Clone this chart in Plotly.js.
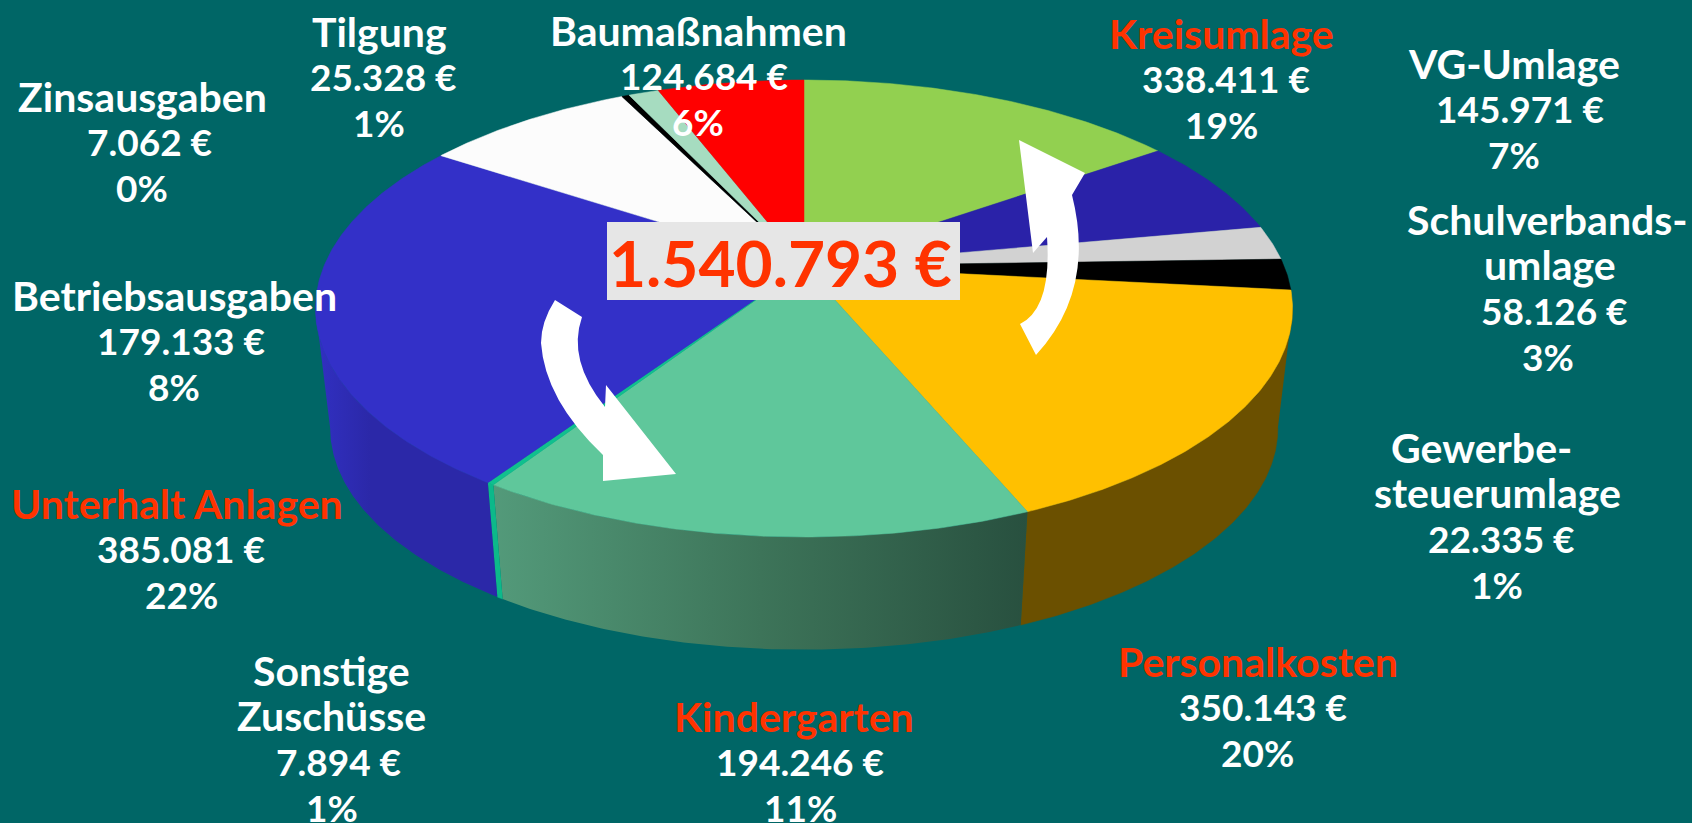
<!DOCTYPE html>
<html>
<head>
<meta charset="utf-8">
<script src="https://cdn.plot.ly/plotly-3.0.1.min.js"></script>
<style>html,body{margin:0;padding:0;background:#006666;overflow:hidden}#chart{width:1692px;height:823px}</style>
</head>
<body>
<div id="chart"></div>
<script>
// ---- data ----
const categories = ["Kreisumlage","VG-Umlage","Schulverbandsumlage","Gewerbesteuerumlage","Personalkosten","Kindergarten","Sonstige Zuschüsse","Unterhalt Anlagen","Betriebsausgaben","Zinsausgaben","Tilgung","Baumaßnahmen"];
// share of the disc as drawn, percent, clockwise from 12 o'clock
const drawnShares = [15.2,6.9,2.4,2.2,17.0,15.5,0.2,24.9,8.4,0.3,1.2,5.8];
const amounts = ["338.411 €","145.971 €","58.126 €","22.335 €","350.143 €","194.246 €","7.894 €","385.081 €","179.133 €","7.062 €","25.328 €","124.684 €"];
const percents = ["19%","7%","3%","1%","20%","11%","1%","22%","8%","0%","1%","6%"];
const nameLines = [["Kreisumlage"],["VG-Umlage"],["Schulverbands-","umlage"],["Gewerbe-","steuerumlage"],["Personalkosten"],["Kindergarten"],["Sonstige","Zuschüsse"],["Unterhalt Anlagen"],["Betriebsausgaben"],["Zinsausgaben"],["Tilgung"],["Baumaßnahmen"]];
const centerTotal = "1.540.793 €";

// ---- styles ----
const highlighted = ["Kreisumlage","Personalkosten","Kindergarten","Unterhalt Anlagen"];
const faceColors = ["#92d050","#2a22a8","#d2d2d2","#000000","#ffc000","#5fc79b","#10c08e","#3330c8","#fcfcfc","#000000","#a6dcc0","#ff0000"];
const wallColors = ["#4a6a28","#15115a","#6a6a6a","#000000","#6b5000","#3f7a5e","#0cb98a","#2b28a8","#808080","#000000","#50705f","#800000"];
const wallGradients = {
  "Kindergarten":[[0,"#539a7a"],[0.5,"#3d7459"],[1,"#28503f"]],
  "Unterhalt Anlagen":[[0,"#3130c2"],[0.3,"#2b28a8"],[1,"#2b28a8"]]
};
const bg = "#006666", red = "#ff3300";

// ---- label placement, page pixels: x of each line, y of first line ----
const lineStep = 45.7;
const labelX = [[1221,1226,1221],[1514,1520,1514],[1547,1550,1554,1548],[1481,1497,1501,1497],[1258,1263,1257],[794,800,800],[331,331,338,332],[177,181,181],[174,181,174],[142,149,142],[379,383,379],[698,704,698]];
const labelY = [33,63,219,447,661,716,670,503,295,96,31,30];

// ---- projection of the tilted disc ----
const cx = 804, apexY = 266, A = 220.6, B = 480, k = 0.186, centerY = 308.5;
const wallScale = 0.97, wallCenterY = 428;
// the wall is visible only between the two points where the rim turns
const frontFrom = Math.acos(-k)*180/Math.PI, frontTo = 360-frontFrom;
function rim(deg){
  const r = deg*Math.PI/180, X = Math.sin(r), Y = Math.cos(r), s = 1/(1+k*Y);
  return [cx + B*X*s, apexY - A*Y*s];
}
function lower(p){ return [cx + (p[0]-cx)*wallScale, wallCenterY + (p[1]-centerY)*wallScale]; }
function arc(a,b){ const n = Math.max(2,Math.ceil((b-a)*2)), out=[]; for(let i=0;i<=n;i++) out.push(rim(a+(b-a)*i/n)); return out; }

const total = drawnShares.reduce((s,v)=>s+v,0);
const walls = [], faces = [];
let start = 0;
categories.forEach((name,i)=>{
  const end = start + drawnShares[i]/total*360;
  const a = Math.max(start,frontFrom), b = Math.min(end,frontTo);
  if(b > a){
    const front = arc(a,b);
    const wallPts = front.concat(front.slice().reverse().map(lower));
    const wall = {type:"scatter",mode:"lines",fill:"toself",name:name+" (Rand)",hoverinfo:"skip",showlegend:false,
      x:wallPts.map(p=>p[0]),y:wallPts.map(p=>p[1]),line:{width:0.5,color:wallColors[i]},fillcolor:wallColors[i]};
    if(wallGradients[name]){
      wall.fillgradient={type:"horizontal",colorscale:wallGradients[name]};
      wall.line={width:0};
    }
    walls.push(wall);
  }
  const pts = arc(start,end);
  const facePts=[[cx,apexY]].concat(pts,[[cx,apexY]]);
  faces.push({type:"scatter",mode:"lines",fill:"toself",name:name,text:amounts[i],hoverinfo:"name+text",showlegend:false,
    x:facePts.map(p=>p[0]),y:facePts.map(p=>p[1]),line:{width:0.5,color:faceColors[i]},fillcolor:faceColors[i]});
  start = end;
});

// ---- text ----
const fontFamily = "Lato, 'Open Sans', sans-serif";
const annotations = [];
categories.forEach((name,i)=>{
  const lines = nameLines[i].concat([amounts[i],percents[i]]);
  lines.forEach((t,j)=>{
    const isName = j < nameLines[i].length;
    annotations.push({x:labelX[i][j],y:labelY[i]+j*lineStep,xref:"x",yref:"y",text:"<b>"+t+"</b>",showarrow:false,
      xanchor:"center",yanchor:"middle",
      font:{family:fontFamily,size:isName?41:37,color:(isName&&highlighted.includes(name))?red:"#ffffff"}});
  });
});
annotations.push({x:780,y:262,xref:"x",yref:"y",text:"<b>"+centerTotal+"</b>",showarrow:false,xanchor:"center",yanchor:"middle",
  font:{family:fontFamily,size:64,color:red}});

const shapes = [
  {type:"path",xref:"x",yref:"y",layer:"above",fillcolor:"#ffffff",line:{width:0},
   path:"M555,300 L582,317 Q567,360 605,407 L606,385 L676,474 L603,481 L603,455 Q545,400 541,343 Q541,322 555,300 Z"},
  {type:"path",xref:"x",yref:"y",layer:"above",fillcolor:"#ffffff",line:{width:0},
   path:"M1036,355 L1020,324 Q1052,308 1047,237 L1033,253 L1019,140 L1085,173 L1072,195 Q1096,290 1036,355 Z"},
  {type:"rect",xref:"x",yref:"y",layer:"above",x0:607,x1:960,y0:222,y1:300,fillcolor:"#e6e6e6",line:{width:0}}
];

Plotly.newPlot("chart",walls.concat(faces),{
  width:1692,height:823,margin:{l:0,r:0,t:0,b:0},
  paper_bgcolor:bg,plot_bgcolor:bg,showlegend:false,
  xaxis:{range:[0,1692],visible:false,fixedrange:true},
  yaxis:{range:[823,0],visible:false,fixedrange:true},
  shapes:shapes,annotations:annotations
},{displayModeBar:false});
</script>
</body>
</html>
